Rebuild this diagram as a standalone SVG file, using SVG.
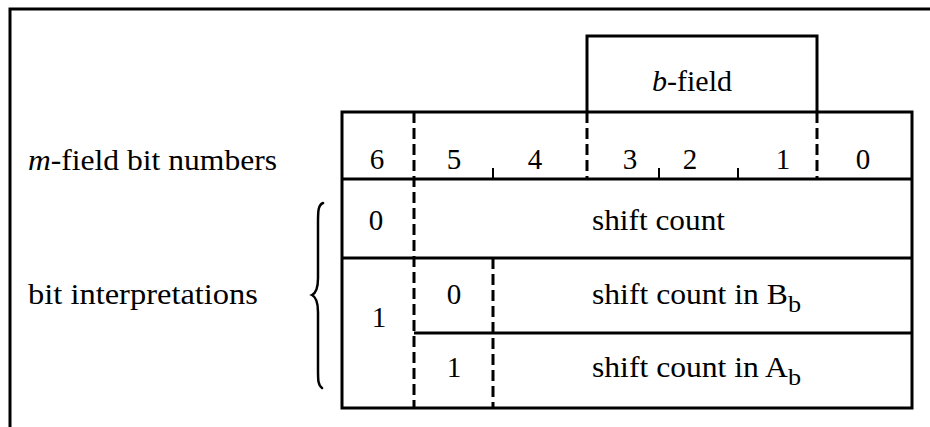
<svg xmlns="http://www.w3.org/2000/svg" width="930" height="427" viewBox="0 0 930 427">
  <style>
    .frame { fill: none; stroke: #000; stroke-width: 3; stroke-linecap: square; }
    .rule { fill: none; stroke: #000; stroke-width: 3; }
    .dash { fill: none; stroke: #000; stroke-width: 3; stroke-dasharray: 11 5; }
    .tick { fill: none; stroke: #000; stroke-width: 2; }
    .brace { fill: none; stroke: #000; stroke-width: 2.5; stroke-linecap: round; }
    text { font-family: "Liberation Serif", "Times New Roman", serif; font-size: 29px; fill: #000; }
    .c { text-anchor: middle; }
    .sub { font-size: 24px; }
  </style>
  <rect width="930" height="427" fill="#fff"/>

  <!-- page frame: top and left edges only -->
  <path class="frame" d="M10 427 V9 H930"/>

  <!-- row labels -->
  <g id="label-bit-numbers">
    <text x="28" y="170" textLength="249" lengthAdjust="spacingAndGlyphs"><tspan font-style="italic">m</tspan>-field bit numbers</text>
  </g>
  <g id="label-interpretations">
    <text x="28" y="304" textLength="230" lengthAdjust="spacingAndGlyphs">bit interpretations</text>
    <path class="brace" d="M323 203 C318 205 318 211 318 224 L318 278 C318 289 316 293 312 295 C316 297 318 301 318 312 L318 368 C318 381 318 385 322 388"/>
  </g>

  <!-- b-field box above bits 3..1 -->
  <g id="b-field">
    <path class="rule" d="M587 112 V36 H817 V112"/>
    <text x="652" y="91" textLength="80" lengthAdjust="spacingAndGlyphs"><tspan font-style="italic">b</tspan>-field</text>
  </g>

  <!-- bit number header row -->
  <g id="bit-numbers">
    <text class="c" x="377" y="169">6</text>
    <text class="c" x="454" y="169">5</text>
    <text class="c" x="535" y="169">4</text>
    <text class="c" x="630" y="169">3</text>
    <text class="c" x="690" y="169">2</text>
    <text class="c" x="783" y="169">1</text>
    <text class="c" x="863" y="169">0</text>
  </g>

  <!-- interpretation rows -->
  <g id="row-shift-count">
    <text class="c" x="376" y="230">0</text>
    <text x="592" y="230" textLength="133" lengthAdjust="spacingAndGlyphs">shift count</text>
  </g>
  <g id="row-one">
    <text class="c" x="379" y="327">1</text>
  </g>
  <g id="row-shift-b">
    <text class="c" x="454" y="304">0</text>
    <text x="592" y="304" textLength="209" lengthAdjust="spacingAndGlyphs">shift count in B<tspan class="sub" dy="8">b</tspan></text>
  </g>
  <g id="row-shift-a">
    <text class="c" x="454" y="377">1</text>
    <text x="592" y="377" textLength="209" lengthAdjust="spacingAndGlyphs">shift count in A<tspan class="sub" dy="8">b</tspan></text>
  </g>

  <!-- table rules -->
  <g id="connectors">
    <rect class="rule" x="342" y="112" width="570" height="296"/>
    <path class="rule" d="M342 179 H912 M342 258 H912 M414 333 H912"/>
    <path class="dash" d="M414 112 V408 M587 112 V179 M817 112 V179 M493 258 V408"/>
    <path class="tick" d="M493 168 V179 M659 168 V179 M738 168 V179"/>
  </g>
</svg>
